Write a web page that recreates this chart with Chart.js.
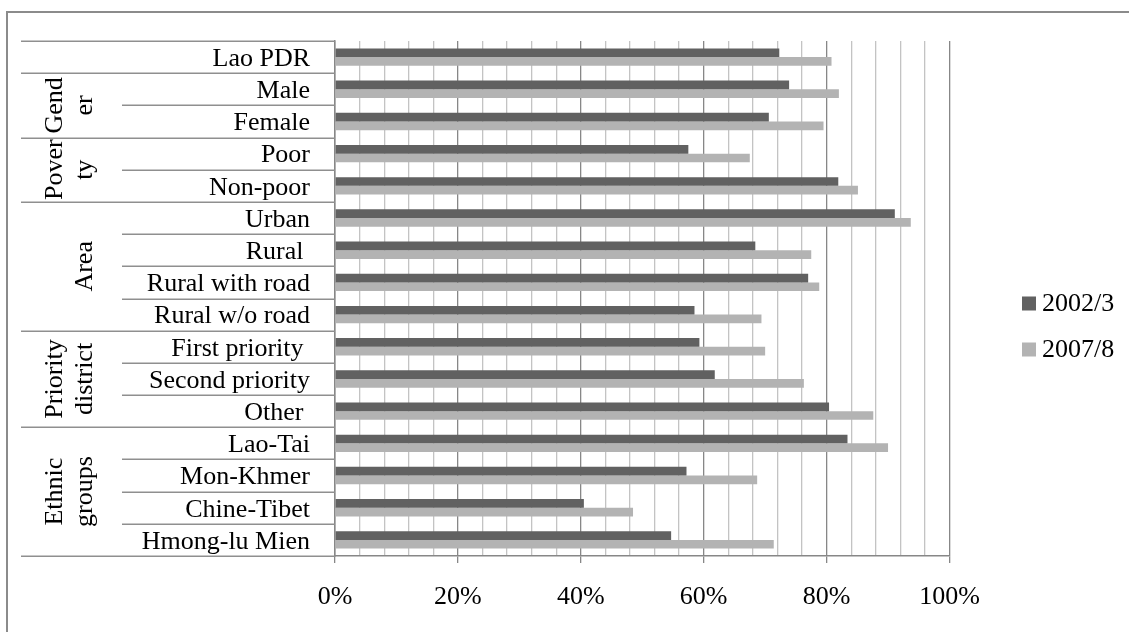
<!DOCTYPE html>
<html>
<head>
<meta charset="utf-8">
<script src="https://cdn.jsdelivr.net/npm/chart.js@4/dist/chart.umd.min.js"></script>
<style>
  html, body { margin: 0; padding: 0; background: #fff; }
  #wrap { width: 1129px; height: 632px; }
</style>
</head>
<body>
<div id="wrap"><canvas id="c" width="1129" height="632"></canvas></div>
<script>
// ---- data ----
const categories = ['Lao PDR', 'Male', 'Female', 'Poor', 'Non-poor', 'Urban', 'Rural ', 'Rural with road',
  'Rural w/o road', 'First priority ', 'Second priority', 'Other ', 'Lao-Tai', 'Mon-Khmer', 'Chine-Tibet', 'Hmong-lu Mien'];
const series2002 = [72.3, 73.9, 70.6, 57.5, 81.9, 91.1, 68.4, 77.0, 58.5, 59.3, 61.8, 80.4, 83.4, 57.2, 40.5, 54.7];
const series2007 = [80.8, 82.0, 79.5, 67.5, 85.1, 93.7, 77.5, 78.8, 69.4, 70.0, 76.3, 87.6, 90.0, 68.7, 48.5, 71.4];
const seriesNames = ['2002/3', '2007/8'];
const groupLines = [['Gend', 'er'], ['Pover', 'ty'], ['Area'], ['Priority', 'district'], ['Ethnic', 'groups']];
const groupFirst = [1, 3, 5, 9, 12];
const groupLast = [2, 4, 8, 11, 15];
const xTickStep = 4;
const xLabelStep = 20;

// ---- style ----
const FONT = "'Liberation Serif', 'Times New Roman', serif";
const FS = 26;
const DARK = '#616161';
const LIGHT = '#b3b3b3';
const MAJOR = '#878787';
const MINOR = '#c3c3c3';
const SEP = '#8f8f8f';

const decor = {
  id: 'decor',
  beforeDraw(chart) {
    const ctx = chart.ctx;
    ctx.save();
    ctx.fillStyle = '#fff';
    ctx.fillRect(0, 0, chart.width, chart.height);
    ctx.strokeStyle = '#8b8b8b';
    ctx.lineWidth = 2;
    ctx.strokeRect(7, 12, 1300, 800);
    ctx.restore();
  },
  afterDraw(chart) {
    const ctx = chart.ctx;
    const ys = chart.scales.y;
    const area = chart.chartArea;
    const n = categories.length;
    const p0 = ys.getPixelForValue(0), p1 = ys.getPixelForValue(1);
    const band = p1 - p0;
    const boundary = k => (k === 0 ? area.top : (k === n ? area.bottom : ys.getPixelForValue(k) - band / 2));
    const groupBounds = new Set([0, n]);
    groupFirst.forEach(g => groupBounds.add(g));
    groupLast.forEach(g => groupBounds.add(g + 1));
    ctx.save();
    ctx.strokeStyle = SEP;
    ctx.lineWidth = 1.5;
    for (let k = 0; k <= n; k++) {
      const y = Math.round(boundary(k)) + 0.25;
      const x0 = groupBounds.has(k) ? 21 : 122;
      ctx.beginPath();
      ctx.moveTo(x0, y);
      ctx.lineTo(area.left, y);
      ctx.stroke();
    }
    // group labels (rotated)
    ctx.fillStyle = '#000';
    ctx.font = FS + 'px ' + FONT;
    ctx.textAlign = 'center';
    ctx.textBaseline = 'alphabetic';
    groupLines.forEach((lines, gi) => {
      const yc = (boundary(groupFirst[gi]) + boundary(groupLast[gi] + 1)) / 2;
      const xs = lines.length === 2 ? [62, 92] : [92];
      lines.forEach((t, li) => {
        ctx.save();
        ctx.translate(xs[li], yc);
        ctx.rotate(-Math.PI / 2);
        ctx.fillText(t, 0, 0);
        ctx.restore();
      });
    });
    // legend
    const colors = [DARK, LIGHT];
    const ly = [303.5, 349.5];
    seriesNames.forEach((name, i) => {
      ctx.fillStyle = colors[i];
      ctx.fillRect(1022, ly[i] - 7, 14, 14);
      ctx.fillStyle = '#000';
      ctx.textAlign = 'left';
      ctx.textBaseline = 'middle';
      ctx.fillText(name, 1042, ly[i] + 1);
    });
    ctx.restore();
  }
};

new Chart(document.getElementById('c'), {
  type: 'bar',
  data: {
    labels: categories,
    datasets: [
      { label: seriesNames[0], data: series2002, backgroundColor: DARK, categoryPercentage: 0.54, barPercentage: 1.0 },
      { label: seriesNames[1], data: series2007, backgroundColor: LIGHT, categoryPercentage: 0.54, barPercentage: 1.0 }
    ]
  },
  options: {
    indexAxis: 'y',
    responsive: false,
    animation: false,
    devicePixelRatio: 1,
    layout: { padding: { top: 41, right: 179.5, bottom: 0, left: 0 } },
    plugins: { legend: { display: false }, tooltip: { enabled: false } },
    scales: {
      x: {
        min: 0, max: 100,
        afterFit: s => { s.height = 76; },
        ticks: {
          stepSize: xTickStep, autoSkip: false, maxRotation: 0, padding: 19,
          color: '#000', font: { family: FONT, size: FS },
          callback: v => (v % xLabelStep === 0 ? v + '%' : '')
        },
        grid: {
          color: c => (c.tick && c.tick.value % xLabelStep === 0 ? MAJOR : MINOR),
          tickColor: c => (c.tick && c.tick.value % xLabelStep === 0 ? MAJOR : 'rgba(0,0,0,0)'),
          tickLength: 7, lineWidth: 1.3
        },
        border: { color: MAJOR, width: 1.5 }
      },
      y: {
        afterFit: s => { s.width = 335; },
        ticks: { padding: 25, labelOffset: 2, color: '#000', font: { family: FONT, size: FS }, autoSkip: false },
        grid: { color: 'rgba(0,0,0,0)', drawTicks: false },
        border: { color: MAJOR, width: 1.5 }
      }
    }
  },
  plugins: [decor]
});
</script>
</body>
</html>
